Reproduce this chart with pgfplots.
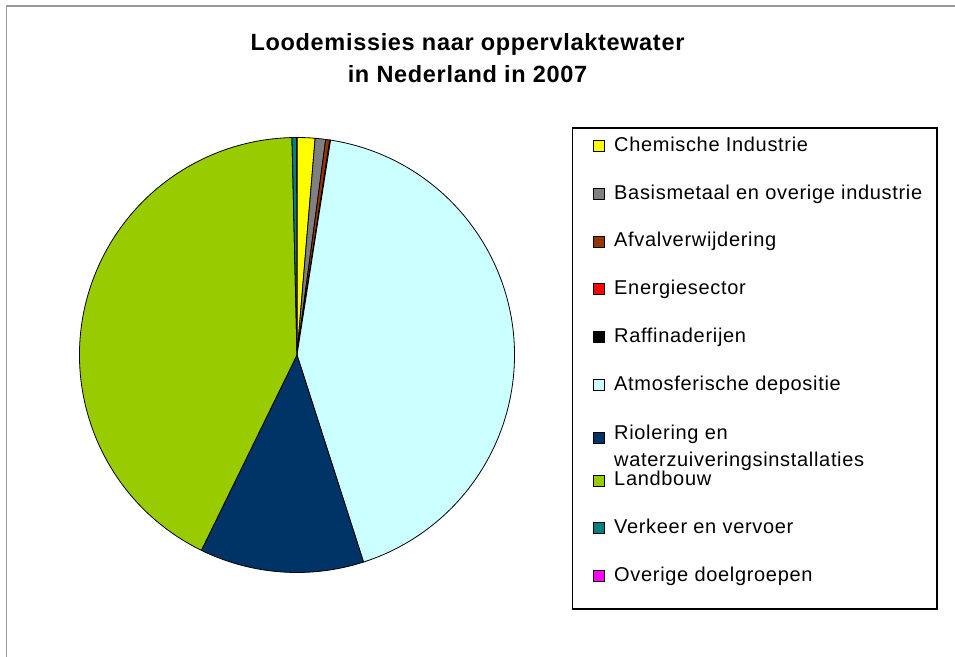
\documentclass[border=0pt]{standalone}
\usepackage{pgfplots}
\pgfplotsset{compat=1.18}
\usepackage{pgfplotstable}
\usepackage{fontspec}
\setmainfont{Liberation Sans}

% Excel palette
\definecolor{pie0}{HTML}{FFFF00}
\definecolor{pie1}{HTML}{808080}
\definecolor{pie2}{HTML}{993300}
\definecolor{pie3}{HTML}{FF0000}
\definecolor{pie4}{HTML}{000000}
\definecolor{pie5}{HTML}{CCFFFF}
\definecolor{pie6}{HTML}{003366}
\definecolor{pie7}{HTML}{99CC00}
\definecolor{pie8}{HTML}{008080}
\definecolor{pie9}{HTML}{FF00FF}

% share of lead emissions (percent)
\pgfplotstableread[col sep=comma]{
sector,share
Chemische Industrie,1.33
Basismetaal en overige industrie,0.78
Afvalverwijdering,0.30
Energiesector,0.03
Raffinaderijen,0.03
Atmosferische depositie,42.6
Riolering en waterzuiveringsinstallaties,12.2
Landbouw,42.4
Verkeer en vervoer,0.36
Overige doelgroepen,0.01
}\piedata

% start/end angle of every slice, clockwise from 12 o'clock
\pgfplotstablegetrowsof{\piedata}
\pgfmathtruncatemacro\lastrow{\pgfplotsretval-1}
\xdef\pietotal{0}
\foreach \i in {0,...,\lastrow}{%
  \pgfplotstablegetelem{\i}{share}\of\piedata
  \pgfmathsetmacro\tmp{\pietotal+\pgfplotsretval}%
  \xdef\pietotal{\tmp}%
}
\xdef\piecum{0}
\foreach \i in {0,...,\lastrow}{%
  \pgfplotstablegetelem{\i}{share}\of\piedata
  \pgfmathsetmacro\tmpa{90-(\piecum/\pietotal)*360}%
  \pgfmathsetmacro\tmpc{\piecum+\pgfplotsretval}%
  \pgfmathsetmacro\tmpb{90-(\tmpc/\pietotal)*360}%
  \expandafter\xdef\csname piea\i\endcsname{\tmpa}%
  \expandafter\xdef\csname pieb\i\endcsname{\tmpb}%
  \xdef\piecum{\tmpc}%
  \pgfplotstablegetelem{\i}{sector}\of\piedata
  \expandafter\xdef\csname pien\i\endcsname{\pgfplotsretval}%
}

\newcommand\titlefont{\fontsize{23.5bp}{28bp}\selectfont\bfseries\addfontfeature{LetterSpace=2.9}}
\newcommand\legfont{\fontsize{20bp}{24bp}\selectfont\addfontfeature{LetterSpace=3.4}}

\begin{document}
\begin{tikzpicture}
\begin{axis}[
    name=ax,
    width=955bp, height=657bp,
    scale only axis,
    xmin=0, xmax=955, ymin=0, ymax=657,
    enlargelimits=false,
    hide axis,
    clip=false,
]
% outer chart border
\draw[color=black!40, line width=2pt] (axis cs:6.5,0) -- (axis cs:6.5,650.5) -- (axis cs:955,650.5);

% slices
\pgfplotsinvokeforeach{0,...,9}{
  \filldraw[fill=pie#1, draw=black, line width=0.8pt, line join=round]
    (axis cs:297,302) -- ++(\csname piea#1\endcsname:217.5bp)
    arc[start angle=\csname piea#1\endcsname, end angle=\csname pieb#1\endcsname, radius=217.5bp]
    -- cycle;
}

% title
\node[anchor=base, inner sep=0pt] at (axis cs:467.5,606) {\titlefont Loodemissies naar oppervlaktewater};
\node[anchor=base, inner sep=0pt] at (axis cs:467.5,574) {\titlefont in Nederland in 2007};

% legend
\draw[line width=1.2pt] (axis cs:572.5,529) rectangle (axis cs:937,48);
\pgfplotsinvokeforeach{0,1,2,3,4,5,7,8,9}{
  \pgfmathsetmacro\sqlo{657-146-47.8*#1-5.5}
  \pgfmathsetmacro\sqhi{657-146-47.8*#1+5.5}
  \pgfmathsetmacro\txy{657-151.3-47.8*#1}
  \edef\temp{%
    \noexpand\filldraw[fill=pie#1, draw=black, line width=0.8pt]
      (axis cs:593,\sqlo) rectangle (axis cs:604,\sqhi);
    \noexpand\node[anchor=base west, inner sep=0pt] at (axis cs:614,\txy)
      {\noexpand\legfont\noexpand\csname pien#1\noexpand\endcsname};
  }\temp
}
\filldraw[fill=pie6, draw=black, line width=0.8pt] (axis cs:593,214) rectangle (axis cs:604,225);
\node[anchor=base west, inner sep=0pt] at (axis cs:614,217) {\legfont Riolering en};
\node[anchor=base west, inner sep=0pt] at (axis cs:614,190.3) {\legfont waterzuiveringsinstallaties};
\end{axis}
\pgfresetboundingbox
\path (ax.south west) rectangle (ax.north east);
\end{tikzpicture}
\end{document}
